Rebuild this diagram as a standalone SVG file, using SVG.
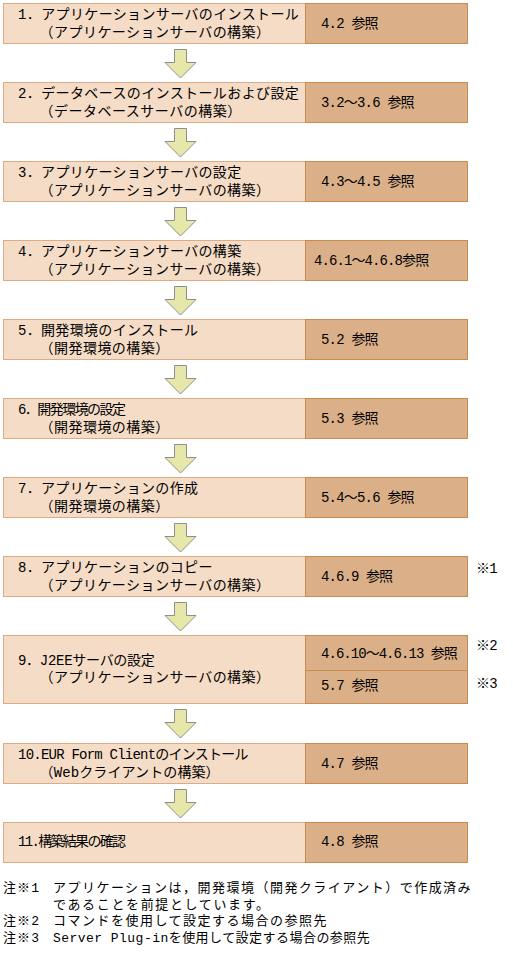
<svg xmlns="http://www.w3.org/2000/svg" width="513" height="958" viewBox="0 0 513 958">
<style>
text{font-family:"Liberation Mono","Noto Sans CJK JP","Noto Sans CJK SC",monospace;font-size:14px;fill:#000}
.n{font-size:13px}
.l{fill:#F5DCC6;stroke:#DDAB86;stroke-width:1}
.r{fill:#DBB089;stroke:#C98B4E;stroke-width:1}
.arr{fill:#E7E7A9;stroke:#8E8E8E;stroke-width:1}
.sep{stroke:#C98B4E;stroke-width:1}
</style>
<rect width="513" height="958" fill="#fff"/>
<g id="connectors">
<path class="arr" d="M174.5,49.5H186.5V62.5H196L180.5,78L165,62.5H174.5Z"/>
<path class="arr" d="M174.5,128.5H186.5V141.5H196L180.5,157L165,141.5H174.5Z"/>
<path class="arr" d="M174.5,207.5H186.5V220.5H196L180.5,236L165,220.5H174.5Z"/>
<path class="arr" d="M174.5,286.5H186.5V299.5H196L180.5,315L165,299.5H174.5Z"/>
<path class="arr" d="M174.5,365.5H186.5V378.5H196L180.5,394L165,378.5H174.5Z"/>
<path class="arr" d="M174.5,444.5H186.5V457.5H196L180.5,473L165,457.5H174.5Z"/>
<path class="arr" d="M174.5,523.5H186.5V536.5H196L180.5,552L165,536.5H174.5Z"/>
<path class="arr" d="M174.5,602.5H186.5V615.5H196L180.5,631L165,615.5H174.5Z"/>
<path class="arr" d="M174.5,709.5H186.5V722.5H196L180.5,738L165,722.5H174.5Z"/>
<path class="arr" d="M174.5,789.5H186.5V802.5H196L180.5,818L165,802.5H174.5Z"/>
</g>
<g id="step1">
<rect class="l" x="3.5" y="3.5" width="302" height="40"/>
<rect class="r" x="305.5" y="3.5" width="162" height="40"/>
<text x="18" y="19" textLength="280.8" lengthAdjust="spacing">1．アプリケーションサーバのインストール</text>
<text x="39.6" y="37" textLength="230.4" lengthAdjust="spacing">（アプリケーションサーバの構築）</text>
<text x="321" y="28" textLength="57.6" lengthAdjust="spacing">4.2 参照</text>
</g>
<g id="step2">
<rect class="l" x="3.5" y="82.5" width="302" height="40"/>
<rect class="r" x="305.5" y="82.5" width="162" height="40"/>
<text x="18" y="98" textLength="280.8" lengthAdjust="spacing">2．データベースのインストールおよび設定</text>
<text x="39.6" y="116" textLength="201.6" lengthAdjust="spacing">（データベースサーバの構築）</text>
<text x="321" y="107" textLength="93.6" lengthAdjust="spacing">3.2～3.6 参照</text>
</g>
<g id="step3">
<rect class="l" x="3.5" y="161.5" width="302" height="40"/>
<rect class="r" x="305.5" y="161.5" width="162" height="40"/>
<text x="18" y="177" textLength="223.2" lengthAdjust="spacing">3．アプリケーションサーバの設定</text>
<text x="39.6" y="195" textLength="230.4" lengthAdjust="spacing">（アプリケーションサーバの構築）</text>
<text x="321" y="186" textLength="93.6" lengthAdjust="spacing">4.3～4.5 参照</text>
</g>
<g id="step4">
<rect class="l" x="3.5" y="240.5" width="302" height="40"/>
<rect class="r" x="305.5" y="240.5" width="162" height="40"/>
<text x="18" y="256" textLength="223.2" lengthAdjust="spacing">4．アプリケーションサーバの構築</text>
<text x="39.6" y="274" textLength="230.4" lengthAdjust="spacing">（アプリケーションサーバの構築）</text>
<text x="314" y="265" textLength="115.2" lengthAdjust="spacing">4.6.1～4.6.8参照</text>
</g>
<g id="step5">
<rect class="l" x="3.5" y="319.5" width="302" height="40"/>
<rect class="r" x="305.5" y="319.5" width="162" height="40"/>
<text x="18" y="335" textLength="180" lengthAdjust="spacing">5．開発環境のインストール</text>
<text x="39.6" y="353" textLength="129.6" lengthAdjust="spacing">（開発環境の構築）</text>
<text x="321" y="344" textLength="57.6" lengthAdjust="spacing">5.2 参照</text>
</g>
<g id="step6">
<rect class="l" x="3.5" y="398.5" width="302" height="40"/>
<rect class="r" x="305.5" y="398.5" width="162" height="40"/>
<text x="18" y="414" textLength="108" lengthAdjust="spacing">6．開発環境の設定</text>
<text x="39.6" y="432" textLength="129.6" lengthAdjust="spacing">（開発環境の構築）</text>
<text x="321" y="423" textLength="57.6" lengthAdjust="spacing">5.3 参照</text>
</g>
<g id="step7">
<rect class="l" x="3.5" y="477.5" width="302" height="40"/>
<rect class="r" x="305.5" y="477.5" width="162" height="40"/>
<text x="18" y="493" textLength="180" lengthAdjust="spacing">7．アプリケーションの作成</text>
<text x="39.6" y="511" textLength="129.6" lengthAdjust="spacing">（開発環境の構築）</text>
<text x="321" y="502" textLength="93.6" lengthAdjust="spacing">5.4～5.6 参照</text>
</g>
<g id="step8">
<rect class="l" x="3.5" y="556.5" width="302" height="40"/>
<rect class="r" x="305.5" y="556.5" width="162" height="40"/>
<text x="18" y="572" textLength="194.4" lengthAdjust="spacing">8．アプリケーションのコピー</text>
<text x="39.6" y="590" textLength="230.4" lengthAdjust="spacing">（アプリケーションサーバの構築）</text>
<text x="321" y="581" textLength="72" lengthAdjust="spacing">4.6.9 参照</text>
<text x="476" y="573" textLength="21.6" lengthAdjust="spacing">※1</text>
</g>
<g id="step9">
<rect class="l" x="3.5" y="635.5" width="302" height="68"/>
<rect class="r" x="305.5" y="635.5" width="162" height="68"/>
<line class="sep" x1="305.5" y1="670.5" x2="467.5" y2="670.5"/>
<text x="18" y="665" textLength="136.8" lengthAdjust="spacing">9．J2EEサーバの設定</text>
<text x="39.6" y="682" textLength="230.4" lengthAdjust="spacing">（アプリケーションサーバの構築）</text>
<text x="321" y="658" textLength="136.8" lengthAdjust="spacing">4.6.10～4.6.13 参照</text>
<text x="321" y="690" textLength="57.6" lengthAdjust="spacing">5.7 参照</text>
<text x="476" y="650" textLength="21.6" lengthAdjust="spacing">※2</text>
<text x="476" y="688" textLength="21.6" lengthAdjust="spacing">※3</text>
</g>
<g id="step10">
<rect class="l" x="3.5" y="743.5" width="302" height="40"/>
<rect class="r" x="305.5" y="743.5" width="162" height="40"/>
<text x="18" y="759" textLength="230.4" lengthAdjust="spacing">10.EUR Form Clientのインストール</text>
<text x="39.6" y="777" textLength="180" lengthAdjust="spacing">（Webクライアントの構築）</text>
<text x="321" y="768" textLength="57.6" lengthAdjust="spacing">4.7 参照</text>
</g>
<g id="step11">
<rect class="l" x="3.5" y="822.5" width="302" height="40"/>
<rect class="r" x="305.5" y="822.5" width="162" height="40"/>
<text x="18" y="846" textLength="108" lengthAdjust="spacing">11.構築結果の確認</text>
<text x="321" y="846" textLength="57.6" lengthAdjust="spacing">4.8 参照</text>
</g>
<g id="notes">
<text class="n" x="3" y="892" textLength="36" lengthAdjust="spacing">注※1</text>
<text class="n" x="53" y="892" textLength="417.6" lengthAdjust="spacing">アプリケーションは，開発環境（開発クライアント）で作成済み</text>
<text class="n" x="53" y="908.5" textLength="216" lengthAdjust="spacing">であることを前提としています。</text>
<text class="n" x="3" y="925" textLength="36" lengthAdjust="spacing">注※2</text>
<text class="n" x="53" y="925" textLength="273.6" lengthAdjust="spacing">コマンドを使用して設定する場合の参照先</text>
<text class="n" x="3" y="941.5" textLength="36" lengthAdjust="spacing">注※3</text>
<text class="n" x="53" y="941.5" textLength="316.8" lengthAdjust="spacing">Server Plug-inを使用して設定する場合の参照先</text>
</g>
</svg>
